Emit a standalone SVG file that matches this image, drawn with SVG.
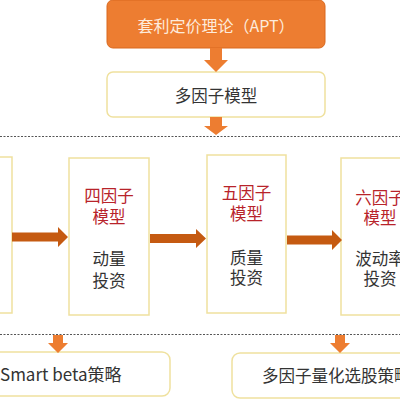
<svg xmlns="http://www.w3.org/2000/svg" width="400" height="400" viewBox="0 0 400 400">
<style>
text{font-family:"Noto Sans CJK SC","Liberation Sans",sans-serif;font-size:16.5px;text-anchor:middle;dominant-baseline:central;fill:#333}
.box{fill:#fff;stroke:#EFE19E;stroke-width:1.5}
.red{fill:#B8232A}
.va{fill:#ED7D31}
.ha{fill:#C55A11}
.dash{stroke:#555;stroke-width:1;stroke-dasharray:2 1.5}
</style>
<g id="apt">
<rect x="107" y="0" width="218" height="48" rx="6" fill="#ED7D31" stroke="#D9691F" stroke-width="1"/>
<text x="216" y="25" style="fill:#FDEBDC;font-size:16px">套利定价理论（APT）</text>
</g>
<g id="multi">
<rect class="box" x="107" y="72" width="218" height="45" rx="6"/>
<text x="216" y="95">多因子模型</text>
</g>
<g id="left-partial">
<rect class="box" x="-20" y="157" width="32" height="156"/>
</g>
<g id="four">
<rect class="box" x="69" y="158" width="80" height="157"/>
<text class="red" x="109" y="195">四因子</text>
<text class="red" x="109" y="216">模型</text>
<text x="109" y="258">动量</text>
<text x="109" y="280">投资</text>
</g>
<g id="five">
<rect class="box" x="207" y="155" width="79" height="158"/>
<text class="red" x="246.5" y="192">五因子</text>
<text class="red" x="246.5" y="213">模型</text>
<text x="246.5" y="257">质量</text>
<text x="246.5" y="277">投资</text>
</g>
<g id="six">
<rect class="box" x="341" y="158" width="80" height="157"/>
<text class="red" x="380" y="197">六因子</text>
<text class="red" x="380" y="217">模型</text>
<text x="380" y="258">波动率</text>
<text x="380" y="278">投资</text>
</g>
<g id="smartbeta">
<rect class="box" x="-20" y="352" width="190" height="44" rx="8"/>
<text x="0" y="373" style="text-anchor:start;font-size:17px">Smart beta策略</text>
</g>
<g id="stock">
<rect class="box" x="232" y="353" width="190" height="45" rx="8"/>
<text x="262" y="375" style="text-anchor:start">多因子量化选股策略</text>
</g>
<g id="connectors">
<line class="dash" x1="0" y1="136.5" x2="400" y2="136.5"/>
<line class="dash" x1="0" y1="334.5" x2="400" y2="334.5"/>
<polygon class="va" points="210,48 222,48 222,60 228,60 216,72 204,60 210,60"/>
<polygon class="va" points="210,117 222,117 222,126 228,126 216,135 204,126 210,126"/>
<polygon class="va" points="53,335 63,335 63,343 68,343 58,353 48,343 53,343"/>
<polygon class="va" points="335,335 345,335 345,343 350,343 340,353 330,343 335,343"/>
<polygon class="ha" points="12,232.5 58,232.5 58,227 68,237 58,247 58,241.5 12,241.5"/>
<polygon class="ha" points="150,234 196,234 196,229 206,238.5 196,248 196,243 150,243"/>
<polygon class="ha" points="287,235.5 332,235.5 332,230 342,240 332,250 332,244.5 287,244.5"/>
</g>
</svg>
